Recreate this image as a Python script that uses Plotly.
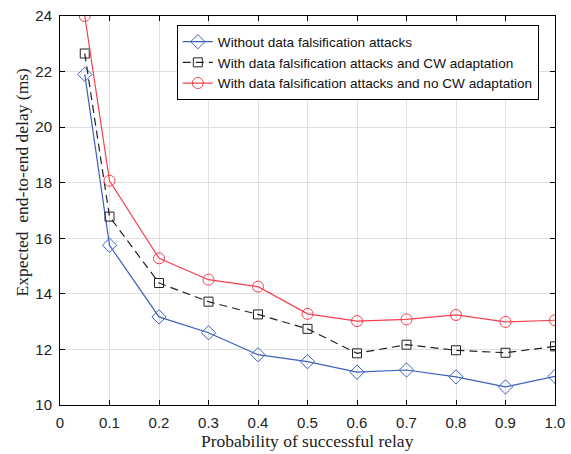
import plotly.graph_objects as go

x = [0.05, 0.1, 0.2, 0.3, 0.4, 0.5, 0.6, 0.7, 0.8, 0.9, 1.0]
no_attack = [21.9, 15.75, 13.17, 12.6, 11.81, 11.56, 11.18, 11.26, 11.01, 10.65, 11.03]
attack_cw = [22.65, 16.78, 14.39, 13.72, 13.26, 12.74, 11.86, 12.17, 11.97, 11.88, 12.11]
attack_nocw = [24.0, 18.07, 15.28, 14.51, 14.26, 13.28, 13.02, 13.08, 13.24, 12.99, 13.05]

names = ["Without data falsification attacks",
         "With data falsification attacks and CW adaptation",
         "With data falsification attacks and no CW adaptation"]
xticks = [0, 0.1, 0.2, 0.3, 0.4, 0.5, 0.6, 0.7, 0.8, 0.9, 1.0]
xticklabels = ["0", "0.1", "0.2", "0.3", "0.4", "0.5", "0.6", "0.7", "0.8", "0.9", "1.0"]
yticks = [10, 12, 14, 16, 18, 20, 22, 24]
xtitle = "Probability of successful relay"
ytitle = "Expected \u00a0end-to-end delay (ms)"

fig = go.Figure()
fig.add_trace(go.Scatter(x=x, y=no_attack, name=names[0], mode="lines+markers",
                         line=dict(color="#3d5fbf", width=1.2),
                         marker=dict(symbol="diamond-open", size=11, color="#3d5fbf", line=dict(width=1))))
fig.add_trace(go.Scatter(x=x, y=attack_cw, name=names[1], mode="lines+markers",
                         line=dict(color="#222222", width=1.2, dash="8px,5px"),
                         marker=dict(symbol="square-open", size=9, color="#222222", line=dict(width=1))))
fig.add_trace(go.Scatter(x=x, y=attack_nocw, name=names[2], mode="lines+markers",
                         line=dict(color="#f5404f", width=1.2),
                         marker=dict(symbol="circle-open", size=11, color="#f5404f", line=dict(width=1))))

axis_common = dict(showline=True, linecolor="black", linewidth=1, mirror="ticks",
                   ticks="inside", ticklen=5, tickcolor="black", automargin=False,
                   showgrid=True, gridcolor="#e0e0e0", gridwidth=1, zeroline=False,
                   ticklabelstandoff=4,
                   tickfont=dict(family="Liberation Sans, Arial", size=15, color="#222"))

fig.update_xaxes(range=[0, 1.0], tickvals=xticks, ticktext=xticklabels, **axis_common)
fig.update_yaxes(range=[10, 24], tickvals=yticks, **axis_common)

title_font = dict(family="Liberation Serif, Times New Roman", size=17.5, color="#222")
fig.add_annotation(text=xtitle, xref="paper", yref="paper", x=0.5, y=-0.0925, yanchor="middle",
                   showarrow=False, font=title_font)
fig.add_annotation(text=ytitle, xref="paper", yref="paper", x=-0.0, y=0.5, xanchor="center",
                   xshift=-39, yshift=28, textangle=-90, showarrow=False, font=title_font)

fig.update_layout(
    width=571, height=454,
    margin=dict(l=60, r=16, t=16, b=49),
    plot_bgcolor="white", paper_bgcolor="white",
    legend=dict(x=0.236, y=0.976, xanchor="left", yanchor="top",
                bgcolor="white", bordercolor="black", borderwidth=1,
                font=dict(family="Liberation Sans, Arial", size=13.6, color="#111"),
                tracegroupgap=0, itemwidth=30),
    showlegend=True,
)

fig.write_html("out.html")
